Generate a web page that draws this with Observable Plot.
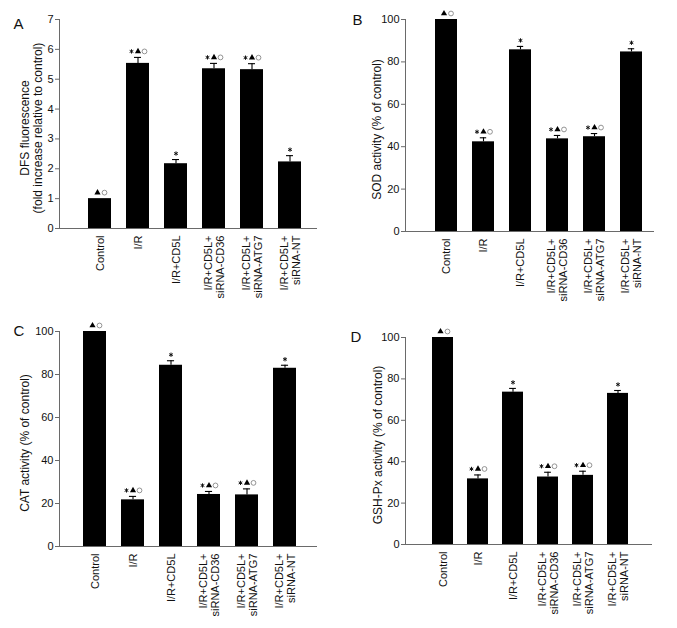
<!DOCTYPE html>
<html>
<head>
<meta charset="utf-8">
<script src="https://cdn.jsdelivr.net/npm/d3@7"></script>
<script src="https://cdn.jsdelivr.net/npm/@observablehq/plot@0.6"></script>
<style>
  body { margin: 0; background: #fff; }
  #fig { position: relative; width: 677px; height: 628px; background: #fff; }
  .panel { position: absolute; }
</style>
</head>
<body>
<div id="fig"></div>
<script>
// ---- data ----
const groups = ["Control", "I/R", "I/R+CD5L", "I/R+CD5L+siRNA-CD36", "I/R+CD5L+siRNA-ATG7", "I/R+CD5L+siRNA-NT"];
const groupLabels = ["Control", "I/R", "I/R+CD5L", "I/R+CD5L+\nsiRNA-CD36", "I/R+CD5L+\nsiRNA-ATG7", "I/R+CD5L+\nsiRNA-NT"];

const dfsMean = [1.0, 5.53, 2.17, 5.35, 5.32, 2.23];
const dfsErr  = [0, 0.2, 0.14, 0.18, 0.2, 0.21];
const sodMean = [100, 42.3, 85.7, 43.7, 44.7, 84.7];
const sodErr  = [0, 1.9, 1.6, 1.6, 1.5, 1.5];
const catMean = [100, 21.7, 84.3, 24.2, 24.0, 82.9];
const catErr  = [0, 1.6, 2.1, 1.4, 2.8, 1.4];
const gshMean = [100, 31.7, 73.6, 32.6, 33.4, 73.0];
const gshErr  = [0, 1.9, 1.8, 2.3, 2.0, 1.4];

// significance markers: * vs control, ▲ vs I/R+CD5L, ○ vs I/R+CD5L+siRNA-NT
const sigStar     = [false, true, true, true, true, true];
const sigTriangle = [true, true, false, true, true, false];
const sigCircle   = [true, true, false, true, true, false];

const ticksDfs = [0, 1, 2, 3, 4, 5, 6, 7];
const ticksPct = [0, 20, 40, 60, 80, 100];

const panels = [
  {letter: "A", mean: dfsMean, err: dfsErr, domain: [0, 7], ticks: ticksDfs,
   title: "DFS fluorescence\n(fold increase relative to control)",
   left: 0, top: 0, width: 337, height: 314, mL: 59, mR: 20, mT: 19, mB: 86,
   xr: [79.4, 309.2], titleDx: -28.5, letterDx: -46, letterDy: 9},
  {letter: "B", mean: sodMean, err: sodErr, domain: [0, 100], ticks: ticksPct,
   title: "SOD activity (% of control)",
   left: 337, top: 0, width: 340, height: 314, mL: 68, mR: 23, mT: 19, mB: 83,
   xr: [88.6, 314.8], titleDx: -29, letterDx: -53, letterDy: 5},
  {letter: "C", mean: catMean, err: catErr, domain: [0, 100], ticks: ticksPct,
   title: "CAT activity (% of control)",
   left: 0, top: 315, width: 337, height: 313, mL: 59, mR: 20, mT: 16, mB: 82,
   xr: [75.4, 304.0], titleDx: -35, letterDx: -46, letterDy: 4},
  {letter: "D", mean: gshMean, err: gshErr, domain: [0, 100], ticks: ticksPct,
   title: "GSH-Px activity (% of control)",
   left: 337, top: 315, width: 340, height: 313, mL: 68, mR: 25, mT: 22, mB: 84,
   xr: [86.8, 299.2], titleDx: -28, letterDx: -55, letterDy: 4}
];

const axisGray = "#6a6a6a";
const fig = document.getElementById("fig");

for (const p of panels) {
  const rows = groups.map((g, i) => ({
    g, label: groupLabels[i], mean: p.mean[i], err: p.err[i], top: p.mean[i] + p.err[i],
    star: sigStar[i], tri: sigTriangle[i], circ: sigCircle[i]
  }));
  const step = (p.xr[1] - p.xr[0]) / 6;
  const bw = step * 0.6;
  const capInset = bw / 2 - 3.5;
  const full = rows.filter(d => d.star && d.tri && d.circ);
  const tc = rows.filter(d => !d.star && d.tri && d.circ);
  const so = rows.filter(d => d.star && !d.tri && !d.circ);
  const mOff = -6;

  const chart = Plot.plot({
    width: p.width, height: p.height,
    marginLeft: p.mL, marginRight: p.mR, marginTop: p.mT, marginBottom: p.mB,
    style: {fontFamily: "'Liberation Sans', Arial, sans-serif", background: "#fff", color: "#111"},
    x: {domain: groups, range: p.xr, paddingInner: 0.4, paddingOuter: 0.2, axis: null},
    y: {domain: p.domain, axis: null},
    marks: [
      Plot.barY(rows, {x: "g", y: "mean", fill: "#000"}),
      Plot.ruleX(rows.filter(d => d.err > 0), {x: "g", y1: "mean", y2: "top", stroke: "#000", strokeWidth: 1.1}),
      Plot.tickY(rows.filter(d => d.err > 0), {x: "g", y: "top", stroke: "#000", strokeWidth: 1.1, insetLeft: capInset, insetRight: capInset}),
      Plot.ruleY([0], {stroke: axisGray, strokeWidth: 1}),
      Plot.frame({anchor: "left", stroke: axisGray, strokeWidth: 1}),
      Plot.axisY({ticks: p.ticks, tickSize: 4, tickPadding: 2, fontSize: 11, stroke: axisGray, fill: "#111", label: null, tickFormat: d => String(d)}),
      // significance markers
      Plot.dot(full, {x: "g", y: "top", dx: -6.5, dy: mOff, symbol: "asterisk", r: 2, stroke: "#111", strokeWidth: 1}),
      Plot.dot(full, {x: "g", y: "top", dx: 0, dy: mOff, symbol: "triangle", r: 2.3, fill: "#000", stroke: "none"}),
      Plot.dot(full, {x: "g", y: "top", dx: 6.5, dy: mOff, symbol: "circle", r: 2.4, fill: "none", stroke: "#888", strokeWidth: 0.9}),
      Plot.dot(tc, {x: "g", y: "top", dx: -2.5, dy: mOff, symbol: "triangle", r: 2.3, fill: "#000", stroke: "none"}),
      Plot.dot(tc, {x: "g", y: "top", dx: 4.5, dy: mOff, symbol: "circle", r: 2.4, fill: "none", stroke: "#888", strokeWidth: 0.9}),
      Plot.dot(so, {x: "g", y: "top", dx: 0, dy: mOff, symbol: "asterisk", r: 2, stroke: "#111", strokeWidth: 1}),
      // category labels
      Plot.text(rows, {x: "g", text: "label", frameAnchor: "bottom", rotate: -90, textAnchor: "end", lineAnchor: "middle",
        dy: 7, fontSize: 11, lineHeight: 1.1, fill: "#111"}),
      // y title
      Plot.text([p.title], {frameAnchor: "left", rotate: -90, textAnchor: "middle", lineAnchor: "middle",
        dx: p.titleDx, dy: 4, fontSize: 12, lineHeight: 1.15, fill: "#111"}),
      // panel letter
      Plot.text([p.letter], {frameAnchor: "top-left", textAnchor: "start", lineAnchor: "bottom",
        dx: p.letterDx, dy: p.letterDy, fontSize: 15, fill: "#111"})
    ]
  });
  chart.classList.add("panel");
  chart.style.left = p.left + "px";
  chart.style.top = p.top + "px";
  fig.appendChild(chart);
}
</script>
</body>
</html>
